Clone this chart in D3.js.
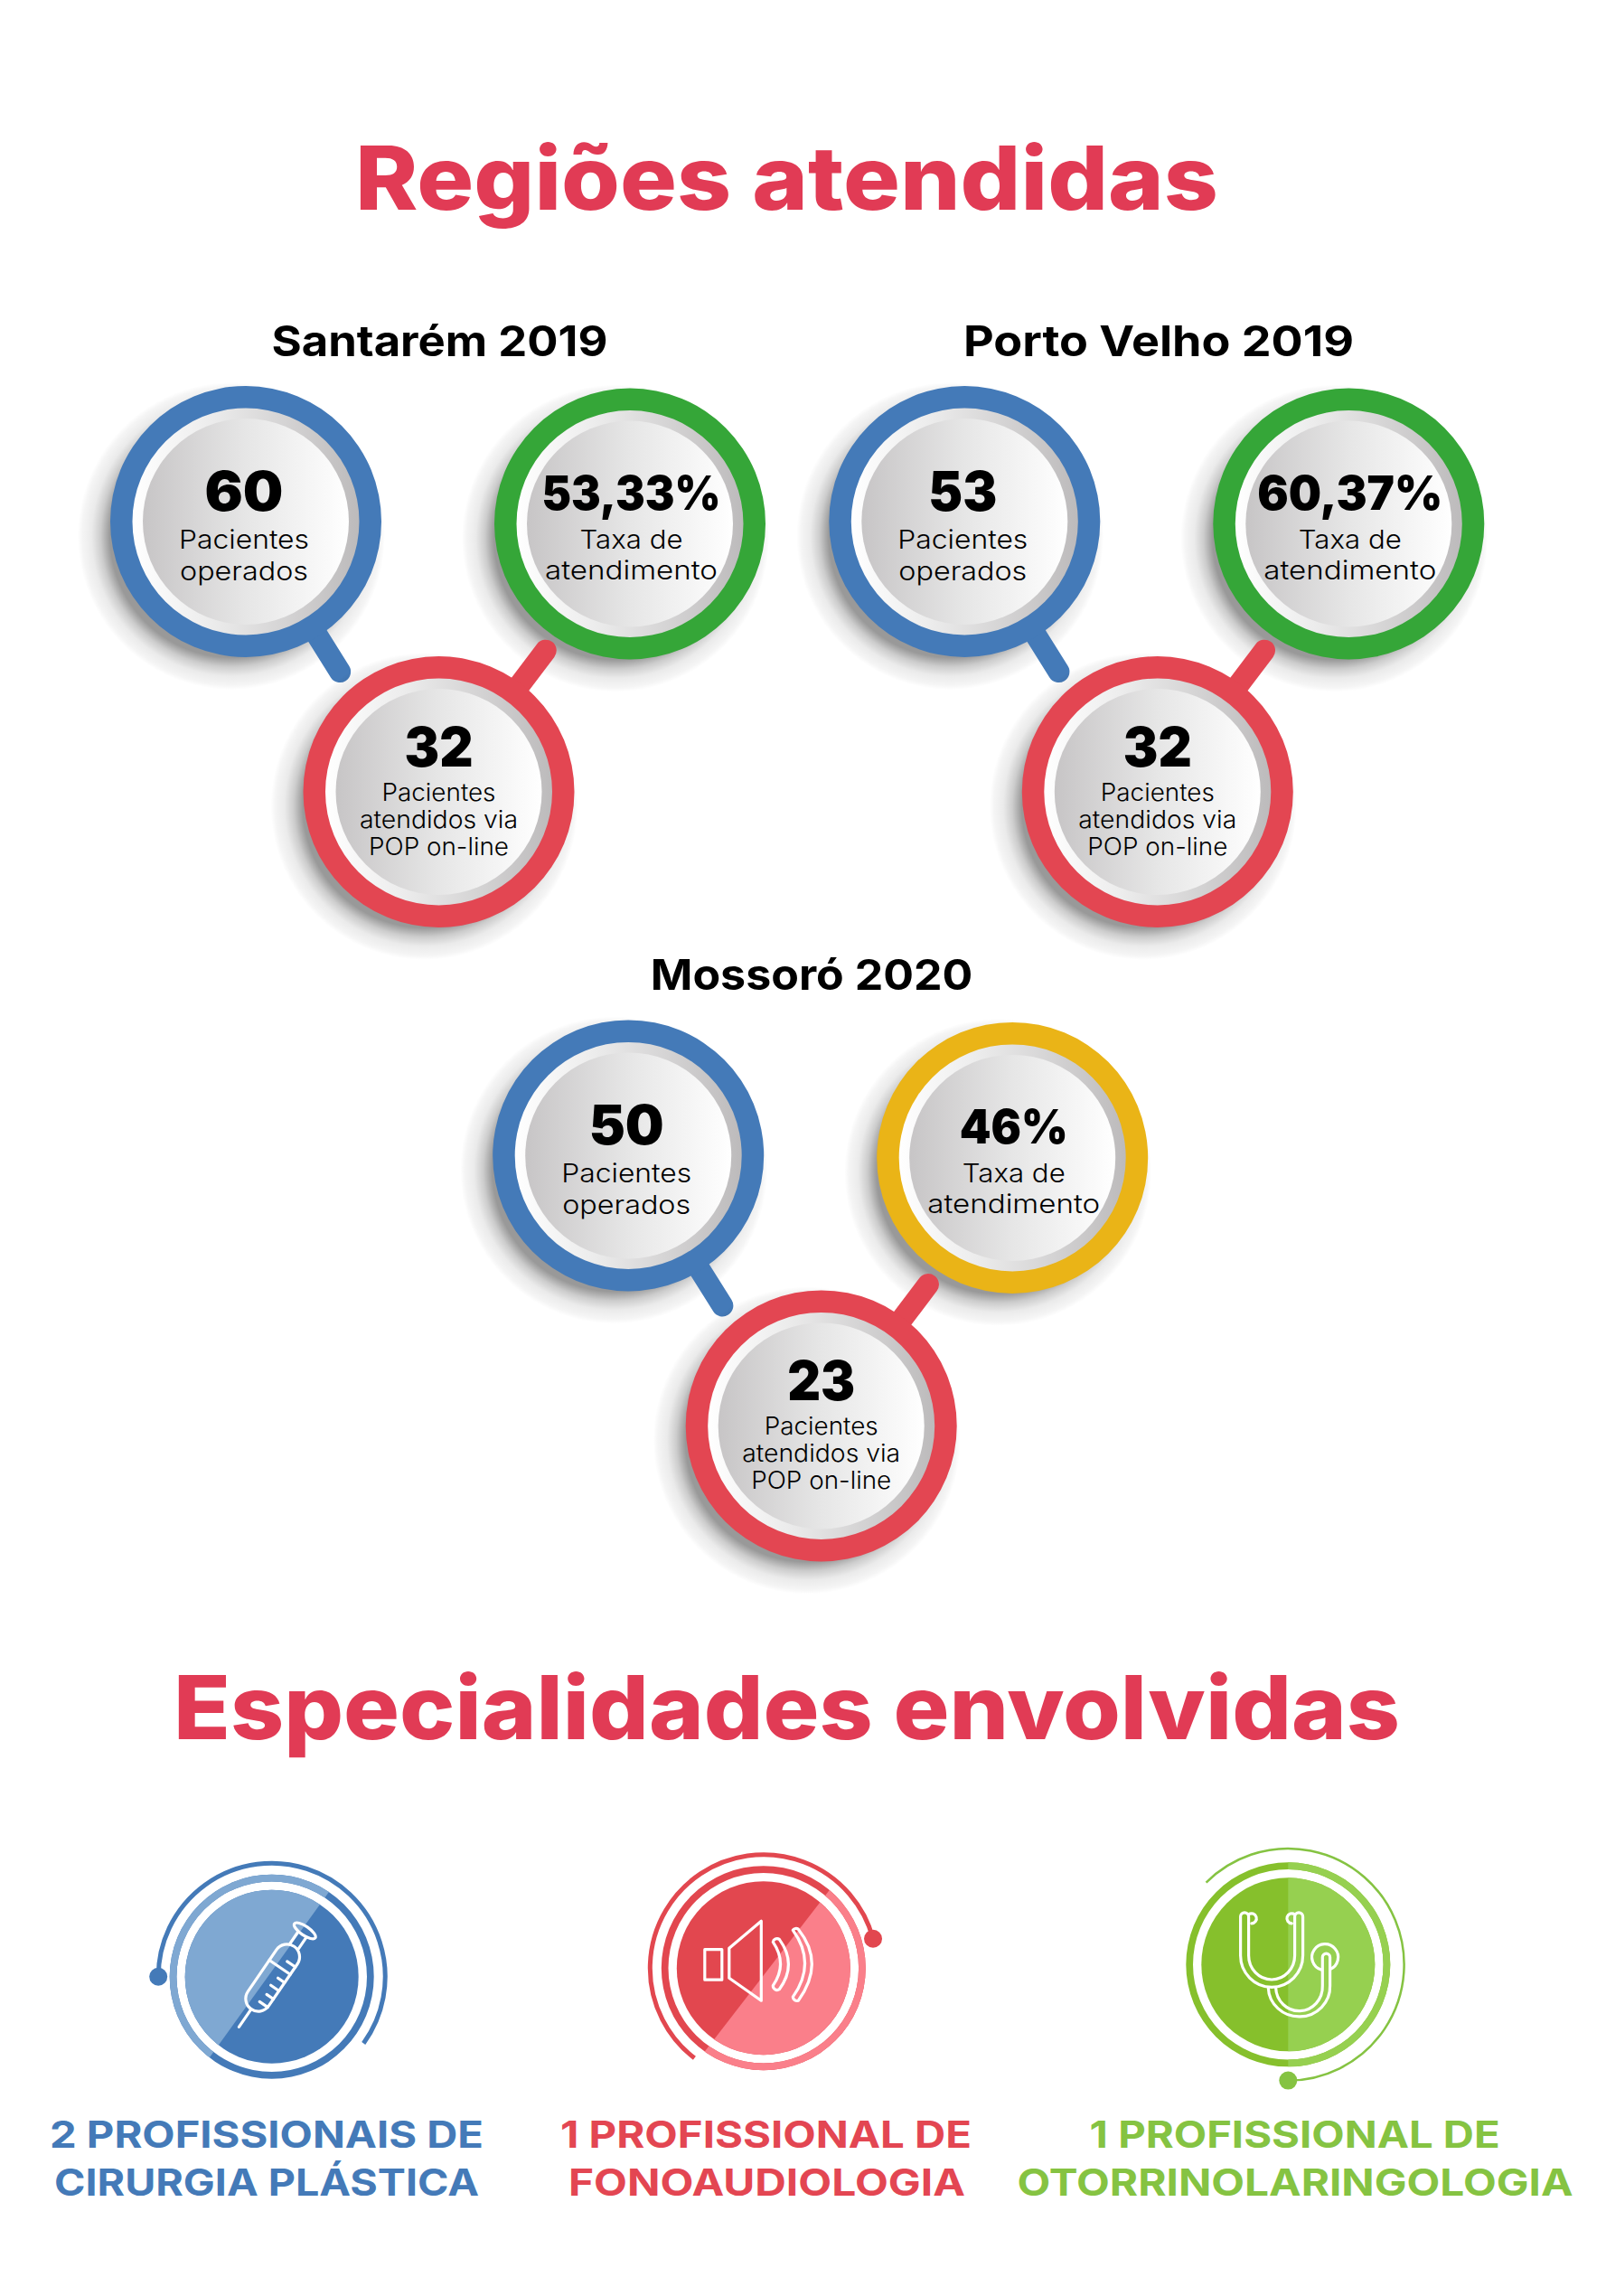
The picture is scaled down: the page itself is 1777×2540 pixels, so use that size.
<!DOCTYPE html>
<html lang="pt"><head><meta charset="utf-8">
<script src="https://cdn.jsdelivr.net/npm/d3@7/dist/d3.min.js"></script>
<style>html,body{margin:0;background:#fff}svg{display:block}text{font-family:Inter,"Noto Sans",sans-serif;text-anchor:middle}</style>
</head><body><div id="chart"></div>
<script>
// ---- data ----
const sectionTitles = ["Regiões atendidas", "Especialidades envolvidas"];
const regions = ["Santarém 2019", "Porto Velho 2019", "Mossoró 2020"];
const operatedValues = ["60", "53", "50"];
const rateValues = ["53,33%", "60,37%", "46%"];
const onlineValues = ["32", "32", "23"];
const metrics = ["operated", "rate", "online"];
const operatedLabel = ["Pacientes", "operados"];
const rateLabel = ["Taxa de", "atendimento"];
const onlineLabel = ["Pacientes", "atendidos via", "POP on-line"];
const specialties = ["plastica", "fono", "otorrino"];
const specialtyLine1 = ["2 PROFISSIONAIS DE", "1 PROFISSIONAL DE", "1 PROFISSIONAL DE"];
const specialtyLine2 = ["CIRURGIA PLÁSTICA", "FONOAUDIOLOGIA", "OTORRINOLARINGOLOGIA"];

// ---- layout and style ----
const W = 1777, H = 2540;
const regionDx = d3.scaleOrdinal(regions, [0, 795.3, 423.2]);
const regionDy = d3.scaleOrdinal(regions, [0, 0, 701.4]);
const metricX = d3.scaleOrdinal(metrics, [272, 697, 485.5]);
const metricY = d3.scaleOrdinal(metrics, [577, 579.5, 876]);
const handleAngle = d3.scaleOrdinal(["operated", "online"], [(90 + 57.9) * Math.PI / 180, 37.1 * Math.PI / 180]);
const RED = "#e34652", BLUE = "#447ab8", GREEN = "#35a638", YELLOW = "#eab417";
const ringColor = (m, i) => m === "operated" ? BLUE : m === "online" ? RED : (i === 2 ? YELLOW : GREEN);
const regionTitleX = d3.scaleOrdinal(regions, [486.4, 1282, 898]);
const regionTitleY = d3.scaleOrdinal(regions, [393.5, 393.5, 1094.7]);
const regionTitleW = d3.scaleOrdinal(regions, [372, 432, 356.5]);
const valueW = d3.scaleOrdinal(["60","53","50","32","23","53,33%","60,37%","46%"], [87,76,83,76,75,198,205,120]);
const lineW = { operated: [144, 142], rate: [114, 191], online: [126, 175, 155] };

const svg = d3.select("#chart").append("svg").attr("width", W).attr("height", H).attr("viewBox", [0, 0, W, H]);
svg.append("rect").attr("width", W).attr("height", H).attr("fill", "#fff");
const defs = svg.append("defs");

const grad = (id, stops) => {
  const g = defs.append("linearGradient").attr("id", id).attr("x1", 0).attr("y1", 0).attr("x2", 1).attr("y2", 0);
  stops.forEach(([o, c]) => g.append("stop").attr("offset", o).attr("stop-color", c));
};
grad("disc", [[0, "#c7c5c6"], [.5, "#e6e6e6"], [1, "#ffffff"]]);
grad("bezel", [[0, "#ffffff"], [.35, "#ececec"], [1, "#bcbabb"]]);
const halo = defs.append("radialGradient").attr("id", "halo");
[[0, .4], [.79, .4], [.85, .2], [.91, .08], [.97, .04], [1, 0]].forEach(([o, a]) =>
  halo.append("stop").attr("offset", o).attr("stop-color", "#000").attr("stop-opacity", a));

const fitted = (sel, txt, x, y, size, weight, width, fill) => sel.append("text")
  .attr("x", x).attr("y", y).attr("font-size", size).attr("font-weight", weight).attr("fill", fill)
  .attr("textLength", width).attr("lengthAdjust", "spacingAndGlyphs").text(txt);

// section titles
const titleBaseline = d3.scaleOrdinal(sectionTitles, [231.7, 1924]);
const titleWidth = d3.scaleOrdinal(sectionTitles, [955, 1357]);
sectionTitles.forEach(t => fitted(svg, t, 870.5, titleBaseline(t), 98, 800, titleWidth(t), "#e13b55"));

// region badges
const ringArc = d3.arc().innerRadius(125.5).outerRadius(150).startAngle(0).endAngle(2 * Math.PI);
const handleLine = d3.line();
const valueOf = { operated: operatedValues, rate: rateValues, online: onlineValues };
const labelOf = { operated: operatedLabel, rate: rateLabel, online: onlineLabel };
const numStyle = {
  operated: { size: 60, y: -12, ty: [30, 64.5], ls: 29, dx: -2 },
  rate: { size: 52, y: -15.5, ty: [27, 61.5], ls: 29, dx: 1.5 },
  online: { size: 60, y: -28, ty: [10, 40, 70], ls: 27, dx: 0 }
};

regions.forEach((region, ri) => {
  const g = svg.append("g").attr("transform", `translate(${regionDx(region)},${regionDy(region)})`);
  fitted(svg, region, regionTitleX(region), regionTitleY(region), 47, 700, regionTitleW(region), "#000");
  metrics.forEach(m => {
    const c = g.append("g").attr("transform", `translate(${metricX(m)},${metricY(m)})`);
    const col = ringColor(m, ri);
    c.append("circle").attr("cx", -16).attr("cy", 16).attr("r", 170).attr("fill", "url(#halo)");
    if (m !== "rate") {
      c.append("path").attr("d", handleLine([d3.pointRadial(handleAngle(m), 138), d3.pointRadial(handleAngle(m), 196)]))
        .attr("stroke", m === "operated" ? BLUE : RED).attr("stroke-width", 24).attr("stroke-linecap", "round").attr("fill", "none");
    }
    c.append("circle").attr("r", 127).attr("fill", "url(#bezel)");
    c.append("path").attr("d", ringArc()).attr("fill", col);
    c.append("circle").attr("r", 114).attr("fill", "url(#disc)");
    const st = numStyle[m], v = valueOf[m][ri];
    fitted(c, v, st.dx, st.y, st.size, 900, valueW(v), "#000");
    labelOf[m].forEach((t, i) => fitted(c, t, st.dx, st.ty[i], st.ls, 300, lineW[m][i], "#000"));
  });
});

// specialties
const specX = d3.scaleOrdinal(specialties, [300.7, 844.8, 1425.3]);
const specY = d3.scaleOrdinal(specialties, [2186.7, 2177.2, 2173.3]);
const specDark = d3.scaleOrdinal(specialties, ["#447ab8", "#e2474f", "#86c02c"]);
const specLight = d3.scaleOrdinal(specialties, ["#7fa8d2", "#fa7f8a", "#96d050"]);
const deg = a => a * Math.PI / 180;
const orbit = d3.scaleOrdinal(specialties, [
  { r: 125.5, w: 5, a0: -90, a1: 126, dot: -90 },
  { r: 125.5, w: 5, a0: -142.5, a1: 75, dot: 75 },
  { r: 128.3, w: 2.5, a0: -45, a1: 180, dot: 180 }
]);
const clipX = d3.scaleOrdinal(specialties, [[-300, -3.5], [5, 300], [0, 300]]);
const clipRot = d3.scaleOrdinal(specialties, [35.8, 37.7, 0]);
const labelX1 = d3.scaleOrdinal(specialties, [295, 847.5, 1432.6]);
const labelX2 = d3.scaleOrdinal(specialties, [295, 848.5, 1433]);
const labelW1 = d3.scaleOrdinal(specialties, [480, 455, 454]);
const labelW2 = d3.scaleOrdinal(specialties, [470, 439, 615]);
const labelFill = d3.scaleOrdinal(specialties, [BLUE, RED, "#85c342"]);
const thinArc = d3.arc();
const ringBand = d3.arc().innerRadius(105.3).outerRadius(113).startAngle(0).endAngle(2 * Math.PI);

const icons = {
  plastica(g) {
    const s = g.append("g").attr("transform", "translate(-36.3,55.7) rotate(34.4)");
    s.append("path").attr("d", "M0,0V-24");
    s.append("rect").attr("x", -14).attr("y", -108).attr("width", 28).attr("height", 84).attr("rx", 14);
    s.append("path").attr("d", "M-5.5,-108V-124M5.5,-108V-124");
    s.append("ellipse").attr("cx", 0).attr("cy", -129).attr("rx", 14).attr("ry", 5);
    s.append("path").attr("d", "M-14,-80H14M14,-36H3M14,-47H5M14,-58H3M14,-69H5M14,-90H3");
  },
  fono(g) {
    g.append("rect").attr("x", -65).attr("y", -20.5).attr("width", 19).attr("height", 33.5);
    g.append("path").attr("d", "M-38,-22L-2.5,-52V36L-38,11Z");
    g.append("path").attr("d", "M10.5,-28.8A4.5,4.5 0 0 1 17.5,-31.8Q37.8,-3.8 17.5,23.5A4.5,4.5 0 0 1 10.5,19.5Q27,-4.5 10.5,-28.8Z");
    g.append("path").attr("d", "M32.5,-42A4.5,4.5 0 0 1 38.5,-43Q68.5,-5.5 38.5,36A4.5,4.5 0 0 1 32.5,32Q59,-5.5 32.5,-42Z");
  },
  otorrino(g) {
    g.append("path").attr("d", "M-43.7,-53V-10A25.5,26.7 0 0 0 7.3,-10V-53A4.5,4.5 0 0 1 16.3,-53V-10A34.5,35 0 0 1 -52.7,-10V-53A4.5,4.5 0 0 1 -43.7,-53Z");
    g.append("path").attr("d", "M-43.7,-55.5A5.5,5.5 0 1 1 -40.5,-45.5");
    g.append("path").attr("d", "M7.3,-55.5A5.5,5.5 0 1 0 4,-45.5");
    g.append("path").attr("d", "M-22,25.5A34,33 0 0 0 46.3,23.5V-8A4.15,4.15 0 0 0 38,-8V23.5A25.5,26.5 0 0 1 -13.7,25.5");
    g.append("path").attr("d", "M36.5,5.7A14.5,14.5 0 1 1 46.5,5.2");
  }
};

specialties.forEach((sp, i) => {
  const g = svg.append("g").attr("transform", `translate(${specX(sp)},${specY(sp)})`);
  const dark = specDark(sp), light = specLight(sp), o = orbit(sp);
  const clipId = "split" + i, [xa, xb] = clipX(sp);
  defs.append("clipPath").attr("id", clipId).append("rect")
    .attr("x", xa).attr("y", -300).attr("width", xb - xa).attr("height", 600)
    .attr("transform", `rotate(${clipRot(sp)})`);
  const body = sel => {
    sel.append("path").attr("d", ringBand());
    sel.append("circle").attr("r", 96);
  };
  body(g.append("g").attr("fill", dark));
  body(g.append("g").attr("fill", light).attr("clip-path", `url(#${clipId})`));
  g.append("path").attr("d", thinArc({ innerRadius: o.r, outerRadius: o.r, startAngle: deg(o.a0), endAngle: deg(o.a1) }))
    .attr("fill", "none").attr("stroke", dark === "#86c02c" ? "#85c342" : dark).attr("stroke-width", o.w).attr("stroke-linecap", "round");
  const [dx, dy] = d3.pointRadial(deg(o.dot), o.r);
  g.append("circle").attr("cx", dx).attr("cy", dy).attr("r", 10).attr("fill", dark === "#86c02c" ? "#85c342" : dark);
  const ic = g.append("g").attr("fill", "none").attr("stroke", "#fff").attr("stroke-width", 3.2).attr("stroke-linejoin", "round").attr("stroke-linecap", "round");
  icons[sp](ic);
  fitted(svg, specialtyLine1[i], labelX1(sp), 2376.3, 41, 700, labelW1(sp), labelFill(sp));
  fitted(svg, specialtyLine2[i], labelX2(sp), 2429, 41, 700, labelW2(sp), labelFill(sp));
});
</script></body></html>
